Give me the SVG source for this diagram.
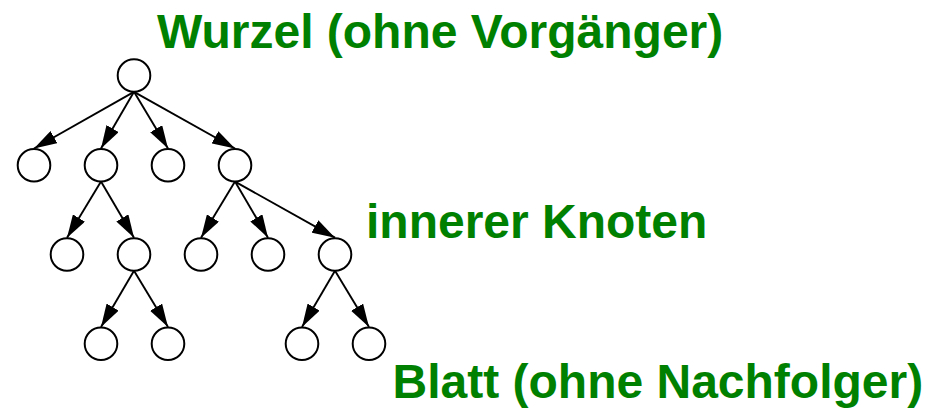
<svg xmlns="http://www.w3.org/2000/svg" width="928" height="410" viewBox="0 0 928 410">
  <style>
    .node circle { fill: #ffffff; stroke: #000000; stroke-width: 2; }
    .edges path { fill: none; stroke: #000000; stroke-width: 1.9; marker-end: url(#arrow); }
    .label { font-family: "Liberation Sans", Arial, sans-serif; font-weight: bold; font-size: 48px; fill: #008000; }
  </style>
  <defs>
    <marker id="arrow" markerUnits="userSpaceOnUse" viewBox="0 0 23 14" refX="23" refY="7" markerWidth="23" markerHeight="14" orient="auto">
      <path d="M0,0 L23,7 L0,14 z" fill="#000000"/>
    </marker>
  </defs>

  <rect width="928" height="410" fill="#ffffff"/>

  <g class="edges" id="connectors">
    <path d="M134,91.8 L34,148.5"/>
    <path d="M134,91.8 L101,148.5"/>
    <path d="M134,91.8 L168,148.5"/>
    <path d="M134,91.8 L235,148.5"/>
    <path d="M101,181.6 L67,237.7"/>
    <path d="M101,181.6 L134,237.7"/>
    <path d="M235,181.6 L201,237.7"/>
    <path d="M235,181.6 L268,237.7"/>
    <path d="M235,181.6 L335,237.7"/>
    <path d="M134,270.8 L101,326.9"/>
    <path d="M134,270.8 L168,326.9"/>
    <path d="M335,270.8 L302,326.9"/>
    <path d="M335,270.8 L369,326.9"/>
  </g>

  <g class="node" id="root"><circle cx="134" cy="75.5" r="16.3"/></g>
  <g class="node" id="n1a"><circle cx="34" cy="165.3" r="16.3"/></g>
  <g class="node" id="n1b"><circle cx="101" cy="165.3" r="16.3"/></g>
  <g class="node" id="n1c"><circle cx="168" cy="165.3" r="16.3"/></g>
  <g class="node" id="n1d"><circle cx="235" cy="165.3" r="16.3"/></g>
  <g class="node" id="n2a"><circle cx="67" cy="254.5" r="16.3"/></g>
  <g class="node" id="n2b"><circle cx="134" cy="254.5" r="16.3"/></g>
  <g class="node" id="n2c"><circle cx="201" cy="254.5" r="16.3"/></g>
  <g class="node" id="n2d"><circle cx="268" cy="254.5" r="16.3"/></g>
  <g class="node" id="n2e"><circle cx="335" cy="254.5" r="16.3"/></g>
  <g class="node" id="n3a"><circle cx="101" cy="343.7" r="16.3"/></g>
  <g class="node" id="n3b"><circle cx="168" cy="343.7" r="16.3"/></g>
  <g class="node" id="n3c"><circle cx="302" cy="343.7" r="16.3"/></g>
  <g class="node" id="n3d"><circle cx="369" cy="343.7" r="16.3"/></g>

  <g id="label-root"><text class="label" x="157" y="48">Wurzel (ohne Vorgänger)</text></g>
  <g id="label-inner"><text class="label" x="366" y="238">innerer Knoten</text></g>
  <g id="label-leaf"><text class="label" x="392.5" y="397.5">Blatt (ohne Nachfolger)</text></g>
</svg>
